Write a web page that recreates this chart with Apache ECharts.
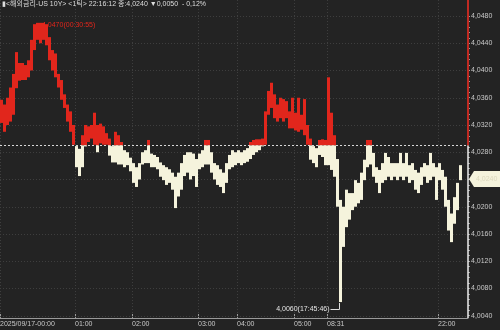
<!DOCTYPE html>
<html><head><meta charset="utf-8">
<script src="https://cdn.jsdelivr.net/npm/echarts@6/dist/echarts.min.js"></script>
<style>html,body{margin:0;padding:0;background:#232323}#c{width:500px;height:330px}</style>
</head><body><div id="c"></div>
<script>
// ---- data ----
const baseline = 4.0290;   // previous close
const lastPrice = 4.0240;
const lows = [
 4.0323,4.0310,4.0320,4.0325,4.0335,4.0374,4.0385,4.0386,4.0386,4.0390,
 4.0400,4.0430,4.0445,4.0440,4.0445,4.0437,4.0415,4.0400,4.0390,4.0375,
 4.0357,4.0345,4.0325,4.0310,4.0291,4.0258,4.0245,4.0258,4.0289,4.0295,
 4.0300,4.0291,4.0280,4.0293,4.0291,4.0291,4.0275,4.0265,4.0265,4.0262,
 4.0262,4.0258,4.0261,4.0252,4.0235,4.0229,4.0240,4.0262,4.0264,4.0264,
 4.0258,4.0258,4.0255,4.0244,4.0239,4.0232,4.0235,4.0225,4.0198,4.0215,
 4.0225,4.0245,4.0250,4.0240,4.0245,4.0229,4.0255,4.0258,4.0262,4.0262,
 4.0250,4.0240,4.0232,4.0229,4.0220,4.0235,4.0255,4.0258,4.0261,4.0264,
 4.0261,4.0264,4.0266,4.0270,4.0276,4.0280,4.0283,4.0289,4.0291,4.0335,
 4.0345,4.0330,4.0325,4.0330,4.0325,4.0330,4.0315,4.0315,4.0312,4.0310,
 4.0313,4.0305,4.0291,4.0269,4.0264,4.0258,4.0276,4.0273,4.0261,4.0261,
 4.0254,4.0244,4.0200,4.0060,4.0141,4.0170,4.0181,4.0195,4.0200,4.0205,
 4.0210,4.0239,4.0258,4.0262,4.0244,4.0235,4.0220,4.0235,4.0239,4.0244,
 4.0239,4.0244,4.0239,4.0244,4.0239,4.0244,4.0235,4.0239,4.0225,4.0220,
 4.0232,4.0244,4.0235,4.0239,4.0244,4.0210,4.0239,4.0225,4.0200,4.0165,
 4.0148,4.0175,4.0195,4.0239
];
const highs = [
 4.0357,4.0350,4.0360,4.0375,4.0395,4.0427,4.0411,4.0411,4.0408,4.0415,
 4.0445,4.0468,4.0470,4.0470,4.0470,4.0468,4.0449,4.0430,4.0425,4.0395,
 4.0386,4.0365,4.0350,4.0340,4.0320,4.0289,4.0285,4.0305,4.0320,4.0318,
 4.0320,4.0338,4.0320,4.0322,4.0318,4.0308,4.0300,4.0289,4.0310,4.0305,
 4.0295,4.0283,4.0280,4.0272,4.0264,4.0258,4.0264,4.0280,4.0283,4.0298,
 4.0278,4.0276,4.0273,4.0265,4.0261,4.0258,4.0255,4.0250,4.0244,4.0250,
 4.0264,4.0276,4.0280,4.0280,4.0278,4.0270,4.0278,4.0283,4.0298,4.0298,
 4.0280,4.0264,4.0261,4.0255,4.0250,4.0264,4.0276,4.0283,4.0280,4.0283,
 4.0280,4.0283,4.0286,4.0295,4.0298,4.0299,4.0299,4.0300,4.0340,4.0370,
 4.0382,4.0365,4.0350,4.0360,4.0358,4.0355,4.0340,4.0360,4.0338,4.0360,
 4.0335,4.0358,4.0320,4.0300,4.0289,4.0286,4.0298,4.0299,4.0298,4.0390,
 4.0338,4.0305,4.0270,4.0210,4.0200,4.0225,4.0220,4.0220,4.0239,4.0235,
 4.0250,4.0269,4.0298,4.0298,4.0279,4.0258,4.0254,4.0264,4.0279,4.0273,
 4.0264,4.0264,4.0264,4.0279,4.0264,4.0279,4.0261,4.0264,4.0254,4.0250,
 4.0258,4.0264,4.0261,4.0279,4.0264,4.0258,4.0264,4.0254,4.0244,4.0210,
 4.0190,4.0214,4.0235,4.0261
];
const columnCount = 157;
const categories = Array.from({length: columnCount}, (_, i) => String(i));
const timeTickIndex = [0, 25, 44, 66, 79, 98, 109, 146];
const timeTickLabels = ['2025/09/17-00:00', '01:00', '02:00', '03:00', '04:00', '05:00', '08:31', '22:00'];
const priceTicks = [4.0040,4.0080,4.0120,4.0160,4.0200,4.0240,4.0280,4.0320,4.0360,4.0400,4.0440,4.0480];
const maxNote = {index: 13, value: 4.0470, text: '4,0470(00:30:55)'};
const minNote = {index: 113, value: 4.0060, text: '4,0060(17:45:46)'};
const titleText = '▮<해외금리-US 10Y> <1틱> 22:16:12 종:4,0240 ▼0,0050  - 0,12%';

// ---- style ----
const FONT = "'Liberation Sans Narrow','Liberation Sans','Noto Sans CJK KR',sans-serif";
const FS = 7;
const RED = '#e1261c', CREAM = '#f5f3dc', BG = '#232323', GRIDC = '#3e3e3e';
const fmt = v => v.toFixed(4).replace('.', ',');
const tickSet = new Set(timeTickIndex);
const tickFn = (idx) => tickSet.has(idx);
const minorTicks = [];
for (let k = 0; k < priceTicks.length - 1; k++) {
  const step = (priceTicks[k + 1] - priceTicks[k]) / 5;
  for (let j = 0; j < 5; j++) minorTicks.push(+(priceTicks[k] + step * j).toFixed(5));
}
minorTicks.push(priceTicks[priceTicks.length - 1]);

const barData = lows.map((lo, i) => [i, lo, highs[i]]);

function renderBars(params, api) {
  const i = api.value(0), lo = api.value(1), hi = api.value(2);
  const w = api.size([1, 0])[0];
  const x = api.coord([i, lo])[0];
  const ch = [];
  if (hi > baseline) {
    const t = api.coord([i, hi])[1], b = api.coord([i, Math.max(lo, baseline)])[1];
    ch.push({type: 'rect', shape: {x: x, y: t, width: w, height: Math.max(b - t, 1)}, style: {fill: RED}});
  }
  if (lo < baseline) {
    const t = api.coord([i, Math.min(hi, baseline)])[1], b = api.coord([i, lo])[1];
    ch.push({type: 'rect', shape: {x: x, y: t, width: w, height: Math.max(b - t, 1)}, style: {fill: CREAM}});
  }
  return {type: 'group', children: ch};
}

function renderUnder(params, api) {
  const cs = params.coordSys;
  const right = cs.x + cs.width;
  const ch = [];
  priceTicks.forEach(v => {
    const y = Math.round(api.coord([0, v])[1]) + 0.5;
    ch.push({type: 'line', shape: {x1: cs.x, y1: y, x2: right, y2: y}, style: {stroke: GRIDC, lineWidth: 1, lineDash: [1, 2]}});
  });
  const by = Math.round(api.coord([0, baseline])[1]) + 0.5;
  ch.push({type: 'line', shape: {x1: cs.x, y1: by, x2: right, y2: by}, style: {stroke: '#d8d8d8', lineWidth: 1, lineDash: [2, 2]}});
  const mp = api.coord([maxNote.index, maxNote.value]);
  ch.push({type: 'text', x: mp[0] + 3, y: mp[1] + 2, style: {text: maxNote.text, fill: RED, font: FS + 'px ' + FONT, textAlign: 'left', textVerticalAlign: 'middle'}});
  return {type: 'group', children: ch};
}

function renderOver(params, api) {
  const cs = params.coordSys;
  const right = cs.x + cs.width;
  const by = api.coord([0, baseline])[1];
  const ly = Math.round(api.coord([0, lastPrice])[1]);
  const mp = api.coord([minNote.index, minNote.value]);
  const ch = [];
  ch.push({type: 'line', shape: {x1: right, y1: cs.y, x2: right, y2: by}, style: {stroke: '#c02a22', lineWidth: 2}});
  ch.push({type: 'line', shape: {x1: right, y1: by, x2: right, y2: cs.y + cs.height}, style: {stroke: '#eeeeee', lineWidth: 1.5}});
  ch.push({type: 'polygon', shape: {points: [[right + 1, ly], [right + 6, ly - 8], [500, ly - 8], [500, ly + 8], [right + 6, ly + 8]]}, style: {fill: CREAM}});
  ch.push({type: 'text', x: right + 8, y: ly, style: {text: fmt(lastPrice), fill: '#dcd8bd', font: FS + 'px ' + FONT, textAlign: 'left', textVerticalAlign: 'middle'}});
  const px = Math.round(mp[0]) + 0.5, py = Math.round(mp[1]);
  ch.push({type: 'polyline', shape: {points: [[px, py + 1], [px, py + 7.5], [px - 9, py + 7.5]]}, style: {stroke: '#dddddd', lineWidth: 1, fill: null}});
  ch.push({type: 'text', x: px - 10, y: py + 7.5, style: {text: minNote.text, fill: '#e6e6e6', font: FS + 'px ' + FONT, textAlign: 'right', textVerticalAlign: 'middle'}});
  return {type: 'group', children: ch};
}

const chart = echarts.init(document.getElementById('c'), null, {renderer: 'canvas'});
chart.setOption({
  backgroundColor: BG,
  animation: false,
  title: {text: titleText, left: 2, top: 1, padding: 0,
    textStyle: {fontSize: FS, color: '#dddddd', fontWeight: 'normal', fontFamily: FONT}},
  grid: {left: 0, right: 32, top: 0, bottom: 12, containLabel: false, outerBoundsMode: 'none'},
  xAxis: {
    type: 'category', boundaryGap: false, data: categories,
    axisLine: {lineStyle: {color: '#9a9a9a', width: 1}},
    axisTick: {inside: true, length: 4, interval: tickFn, lineStyle: {color: '#9a9a9a'}},
    axisLabel: {interval: tickFn, formatter: (v, idx) => timeTickLabels[timeTickIndex.indexOf(+v)] || '',
      align: 'left', color: '#c8c8c8', fontSize: FS, fontFamily: FONT, margin: 3},
    splitLine: {show: true, interval: tickFn, lineStyle: {color: GRIDC, type: [1, 2]}}
  },
  yAxis: {
    type: 'value', position: 'right', min: 4.00366, max: 4.05035,
    axisLine: {show: false}, splitLine: {show: false},
    axisTick: {show: true, customValues: minorTicks, length: 2, lineStyle: {color: '#9a9a9a'}},
    axisLabel: {customValues: priceTicks, showMinLabel: true, showMaxLabel: true, formatter: fmt,
      color: '#c8c8c8', fontSize: FS, fontFamily: FONT, margin: 3}
  },
  series: [
    {type: 'custom', name: 'under', z: 1, clip: false, renderItem: renderUnder, data: [[0, baseline]], encode: {x: 0, y: 1}, silent: true},
    {type: 'custom', name: 'ticks', z: 3, clip: true, renderItem: renderBars, data: barData, encode: {x: 0, y: [1, 2]}},
    {type: 'custom', name: 'over', z: 5, clip: false, renderItem: renderOver, data: [[0, baseline]], encode: {x: 0, y: 1}, silent: true}
  ]
});
</script></body></html>
